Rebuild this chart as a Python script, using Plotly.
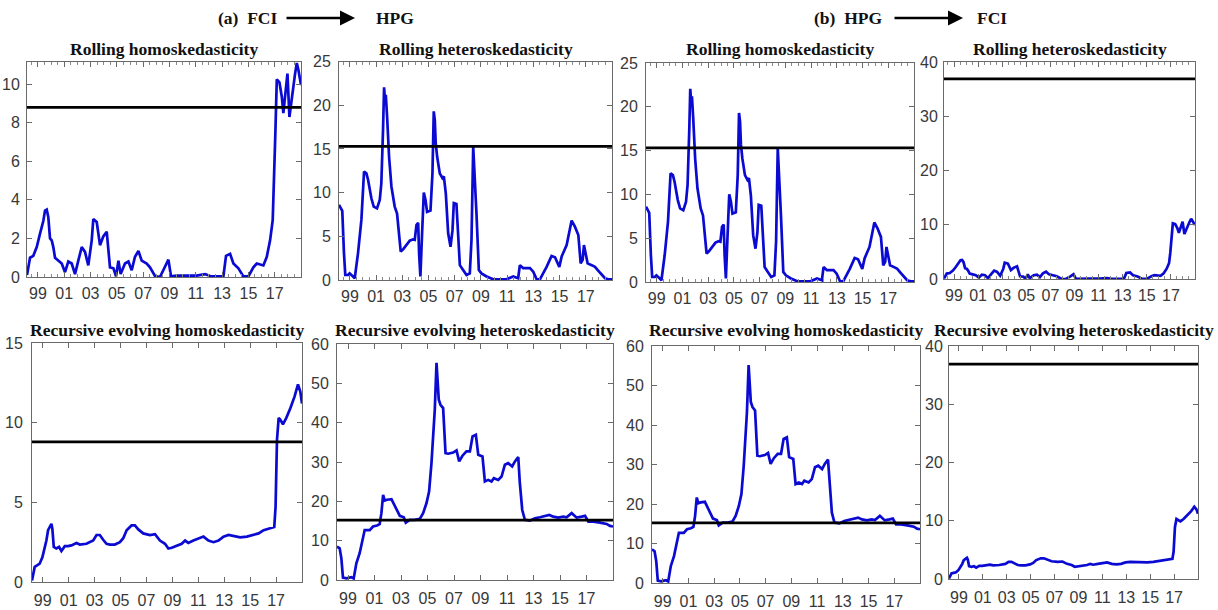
import plotly.graph_objects as go

W, H = 1218, 610

# ---- sample span (decimal years) and x tick labels ----
X_START, X_END = 1998.17, 2019.0
year_ticks = [1999, 2001, 2003, 2005, 2007, 2009, 2011, 2013, 2015, 2017]
year_labels = ["99", "01", "03", "05", "07", "09", "11", "13", "15", "17"]

# ---- test statistic sequences ----
roll_homo_t = [1998.17, 1998.40, 1998.65, 1998.91, 1999.16, 1999.41, 1999.54, 1999.67, 1999.79, 1999.92,
               2000.05, 2000.17, 2000.30, 2000.55, 2000.81, 2001.06, 2001.31, 2001.57, 2001.82, 2002.07,
               2002.33, 2002.58, 2002.83, 2003.09, 2003.21, 2003.47, 2003.72, 2003.97, 2004.23, 2004.48,
               2004.74, 2004.94, 2005.12, 2005.29, 2005.62, 2005.88, 2006.13, 2006.38, 2006.64, 2006.89,
               2007.27, 2007.52, 2007.90, 2008.28, 2008.66, 2008.92, 2009.12, 2009.55, 2010.31, 2011.07,
               2011.71, 2012.09, 2013.10, 2013.30, 2013.61, 2013.86, 2014.24, 2014.62, 2015.00, 2015.38,
               2015.64, 2016.14, 2016.40, 2016.65, 2016.85, 2016.95, 2017.05, 2017.16, 2017.36, 2017.54,
               2017.66, 2017.87, 2017.97, 2018.12, 2018.30, 2018.55, 2018.68, 2018.80, 2019.00]
roll_homo_v = [0.1, 1.0, 1.1, 1.55, 2.25, 2.9, 3.45, 3.5, 3.1, 2.0,
               1.9, 1.55, 1.0, 0.85, 0.7, 0.25, 0.8, 0.7, 0.15, 0.85,
               1.55, 1.3, 0.6, 1.9, 3.0, 2.85, 1.65, 2.1, 2.35, 0.5,
               0.45, 0.03, 0.85, 0.15, 0.7, 0.8, 0.35, 1.05, 1.35, 0.85,
               0.7, 0.5, 0.05, 0.0, 0.5, 0.9, 0.03, 0.07, 0.07, 0.07,
               0.15, 0.05, 0.03, 1.1, 1.2, 0.7, 0.45, 0.03, 0.03, 0.5,
               0.7, 0.6, 1.05, 1.9, 2.95, 4.85, 7.45, 10.25, 10.1, 9.35,
               8.5, 9.9, 10.55, 8.3, 9.35, 10.55, 11.1, 10.75, 9.95]

roll_het_t = [1998.17, 1998.35, 1998.42, 1998.55, 1998.65, 1998.86, 1998.98, 1999.24, 1999.37, 1999.62,
              1999.88, 2000.08, 2000.26, 2000.39, 2000.64, 2000.82, 2001.07, 2001.28, 2001.40, 2001.53,
              2001.61, 2001.68, 2001.74, 2001.84, 2001.99, 2002.17, 2002.42, 2002.60, 2002.75, 2002.88,
              2003.06, 2003.31, 2003.57, 2003.82, 2003.95, 2004.08, 2004.21, 2004.28, 2004.38, 2004.51,
              2004.64, 2004.77, 2004.89, 2005.15, 2005.30, 2005.40, 2005.48, 2005.55, 2005.66, 2005.86,
              2006.06, 2006.17, 2006.32, 2006.50, 2006.68, 2006.83, 2006.93, 2007.13, 2007.26, 2007.39,
              2007.64, 2007.90, 2008.15, 2008.28, 2008.41, 2008.53, 2008.66, 2008.84, 2009.04, 2009.43,
              2009.93, 2010.95, 2011.46, 2011.84, 2011.97, 2012.23, 2012.74, 2012.99, 2013.25, 2013.50,
              2014.01, 2014.39, 2014.65, 2014.98, 2015.16, 2015.54, 2015.74, 2015.92, 2016.17, 2016.43,
              2016.61, 2016.76, 2016.86, 2017.01, 2017.14, 2017.45, 2017.70, 2017.96, 2018.21, 2018.47,
              2018.72, 2019.00]
roll_het_v = [8.6, 8.2, 7.9, 3.05, 0.57, 0.57, 0.76, 0.4, 0.2, 3.05,
              6.9, 12.4, 12.2, 11.45, 9.35, 8.4, 8.2, 9.15, 11.05, 17.2,
              22.05, 20.6, 21.2, 18.7, 14.1, 10.7, 8.4, 7.6, 5.35, 3.25,
              3.5, 4.0, 4.5, 4.65, 4.6, 6.3, 6.55, 3.05, 0.4, 5.35,
              10.0, 9.15, 7.8, 7.95, 12.2, 19.3, 18.3, 15.65, 14.1, 12.2,
              11.65, 11.85, 9.9, 5.35, 3.8, 5.7, 8.8, 8.7, 5.35, 1.7,
              1.15, 0.57, 0.76, 4.6, 15.25, 11.85, 7.6, 1.15, 0.76, 0.4,
              0.08, 0.08, 0.4, 0.2, 1.7, 1.35, 1.35, 0.95, 0.08, 0.08,
              1.5, 2.75, 2.6, 1.5, 2.7, 4.0, 5.35, 6.8, 6.1, 5.15,
              1.9, 2.3, 4.0, 3.05, 1.9, 1.7, 1.5, 1.05, 0.57, 0.2,
              0.08, 0.08]

rec_homo_t = [1998.17, 1998.25, 1998.38, 1998.56, 1998.76, 1998.97, 1999.15, 1999.28, 1999.41, 1999.54,
              1999.67, 1999.74, 1999.85, 2000.05, 2000.26, 2000.44, 2000.70, 2000.95, 2001.21, 2001.60,
              2001.86, 2002.37, 2002.89, 2003.15, 2003.40, 2003.66, 2003.92, 2004.18, 2004.56, 2004.95,
              2005.21, 2005.47, 2005.85, 2006.11, 2006.37, 2006.75, 2007.27, 2007.66, 2008.04, 2008.43,
              2008.69, 2008.95, 2009.33, 2009.72, 2009.98, 2010.23, 2010.62, 2011.01, 2011.40, 2011.78,
              2012.17, 2012.56, 2012.94, 2013.33, 2013.72, 2014.23, 2014.75, 2015.26, 2015.65, 2016.04,
              2016.42, 2016.86, 2016.96, 2017.07, 2017.20, 2017.32, 2017.53, 2017.79, 2018.10, 2018.43,
              2018.69, 2018.87, 2019.00]
rec_homo_v = [0.1, 0.5, 0.95, 1.05, 1.15, 1.55, 2.1, 2.6, 3.25, 3.5,
              3.65, 3.35, 2.2, 2.1, 2.2, 1.95, 2.25, 2.25, 2.3, 2.45,
              2.35, 2.4, 2.6, 2.95, 2.95, 2.65, 2.4, 2.35, 2.35, 2.5,
              2.75, 3.25, 3.55, 3.55, 3.3, 3.05, 2.95, 3.0, 2.6, 2.4,
              2.1, 2.15, 2.25, 2.4, 2.6, 2.45, 2.6, 2.75, 2.85, 2.6,
              2.5, 2.6, 2.85, 2.95, 2.9, 2.8, 2.85, 2.95, 3.05, 3.25,
              3.35, 3.45, 4.7, 8.9, 10.3, 10.2, 9.9, 10.3, 10.9, 11.65,
              12.4, 11.95, 11.2]

rec_het_t = [1998.17, 1998.37, 1998.50, 1998.62, 1998.88, 1999.25, 1999.43, 1999.63, 1999.88, 2000.13,
             2000.26, 2000.64, 2000.89, 2001.19, 2001.39, 2001.52, 2001.65, 2001.77, 2001.95, 2002.28,
             2002.65, 2002.91, 2003.21, 2003.36, 2003.66, 2004.04, 2004.42, 2004.67, 2004.92, 2005.12,
             2005.30, 2005.42, 2005.55, 2005.68, 2005.75, 2005.85, 2005.98, 2006.18, 2006.36, 2006.56,
             2006.94, 2007.19, 2007.39, 2007.64, 2007.94, 2008.20, 2008.40, 2008.65, 2008.83, 2009.15,
             2009.33, 2009.58, 2009.83, 2010.01, 2010.34, 2010.59, 2010.84, 2011.09, 2011.39, 2011.60,
             2011.85, 2011.97, 2012.15, 2012.35, 2012.73, 2013.11, 2013.49, 2013.99, 2014.19, 2014.49,
             2014.87, 2015.25, 2015.50, 2015.88, 2016.26, 2016.63, 2016.89, 2017.14, 2017.52, 2018.02,
             2018.52, 2018.77, 2019.00]
rec_het_v = [8.5, 8.05, 5.5, 0.6, 0.4, 0.7, 0.4, 4.25, 6.8, 10.2,
             12.7, 12.7, 13.6, 13.85, 14.2, 17.0, 21.65, 20.2, 20.4, 20.55,
             18.25, 16.3, 15.95, 14.6, 15.3, 15.3, 15.55, 17.0, 19.5, 22.5,
             29.7, 35.65, 43.3, 55.2, 50.9, 45.85, 44.55, 43.7, 32.25, 32.1,
             32.4, 32.95, 30.15, 31.6, 32.7, 32.7, 36.5, 36.9, 31.85, 31.4,
             25.05, 25.45, 25.05, 25.9, 25.45, 26.3, 29.3, 29.7, 28.85, 30.15,
             31.25, 24.6, 17.8, 15.3, 15.1, 15.7, 15.95, 16.3, 16.55, 16.1,
             15.85, 16.1, 15.95, 17.0, 15.85, 16.1, 16.3, 14.85, 14.85, 14.6,
             14.25, 13.75, 13.6]

# critical values (horizontal reference lines)
crit_values = [8.8, 15.3, 15.3, 36.9, 8.8, 15.2, 15.2, 36.9]

titles = ["Rolling homoskedasticity", "Rolling heteroskedasticity",
          "Rolling homoskedasticity", "Rolling heteroskedasticity",
          "Recursive evolving homoskedasticity", "Recursive evolving heteroskedasticity",
          "Recursive evolving homoskedasticity", "Recursive evolving heteroskedasticity"]
series = [(roll_homo_t, roll_homo_v), (roll_het_t, roll_het_v),
          (roll_het_t, roll_het_v), (roll_homo_t, roll_homo_v),
          (rec_homo_t, rec_homo_v), (rec_het_t, rec_het_v),
          (rec_het_t, rec_het_v), (rec_homo_t, rec_homo_v)]
y_max = [11.15, 25, 25, 40, 15, 60, 60, 40]
y_step = [2, 5, 5, 10, 5, 10, 10, 10]

# plot-area boxes in pixels: left, right, top, bottom
boxes = [(27, 301, 62, 277), (339, 612, 61.5, 280), (646, 914, 63, 282), (944, 1195, 62, 279),
         (32, 302, 343, 582), (337, 613, 344, 580), (652, 920, 346, 583), (949, 1198, 346, 579)]
# gap between y tick labels and the axis line
y_label_gap = [3, 4, 4, 2, 5, 4, 4, 2]

BLUE = "#0a0ad2"
TICK_FONT = dict(family="Liberation Sans, Arial, sans-serif", size=16, color="#383838")
TITLE_FONT = dict(family="Liberation Serif, Times New Roman, serif", size=17.5, color="#111111")
AX_COLOR = "#6a6a6a"

fig = go.Figure()
layout = dict(width=W, height=H, margin=dict(l=0, r=0, t=0, b=0, pad=0, autoexpand=False),
              autosize=False, paper_bgcolor="white", plot_bgcolor="white", showlegend=False)
annotations = []

for i in range(8):
    n = "" if i == 0 else str(i + 1)
    x0, x1, y0, y1 = boxes[i]
    t, v = series[i]
    fig.add_trace(go.Scatter(x=t, y=v, mode="lines", line=dict(color=BLUE, width=2.7),
                             xaxis="x" + n, yaxis="y" + n, hoverinfo="skip"))
    fig.add_trace(go.Scatter(x=[X_START, X_END], y=[crit_values[i], crit_values[i]], mode="lines",
                             line=dict(color="black", width=2.8),
                             xaxis="x" + n, yaxis="y" + n, hoverinfo="skip"))
    xa = dict(domain=[x0 / W, x1 / W], range=[X_START, X_END], anchor="y" + n, automargin=False,
              tickmode="array", tickvals=year_ticks, ticktext=year_labels,
              ticks="inside", ticklen=5, tickcolor=AX_COLOR, tickwidth=1,
              showline=True, linecolor=AX_COLOR, linewidth=1, mirror="ticks",
              showgrid=False, zeroline=False, tickfont=TICK_FONT,
              ticklabelstandoff=2 if i < 4 else 4)
    if i < 4:
        xa["minor"] = dict(tick0=1999, dtick=0.5, ticks="inside", ticklen=3, tickcolor="#8a8a8a")
    ya = dict(domain=[1 - y1 / H, 1 - y0 / H], range=[0, y_max[i]], anchor="x" + n, automargin=False,
              tickmode="linear", tick0=0, dtick=y_step[i],
              ticks="inside", ticklen=5, tickcolor=AX_COLOR, tickwidth=1,
              showline=True, linecolor=AX_COLOR, linewidth=1, mirror="ticks",
              showgrid=False, zeroline=False, tickfont=TICK_FONT, ticklabelstandoff=y_label_gap[i])
    layout["xaxis" + n] = xa
    layout["yaxis" + n] = ya
    title_y = 49 if i < 4 else 330
    annotations.append(dict(text="<b>%s</b>" % titles[i], x=(x0 + x1) / 2 / W, y=1 - title_y / H,
                            xref="paper", yref="paper", xanchor="center", yanchor="middle",
                            showarrow=False, font=TITLE_FONT))

# direction headers
HEAD_Y = 1 - 18 / H
for left_txt, right_txt, lx, ax0, ax1, rx in [("(a)  FCI", "HPG", 279, 285, 355, 374),
                                             ("(b)  HPG", "FCI", 884, 893, 963, 975)]:
    annotations.append(dict(text="<b>%s</b>" % left_txt, x=lx / W, y=HEAD_Y, xref="paper", yref="paper",
                            xanchor="right", yanchor="middle", showarrow=False, font=TITLE_FONT))
    annotations.append(dict(text="<b>%s</b>" % right_txt, x=rx / W, y=HEAD_Y, xref="paper", yref="paper",
                            xanchor="left", yanchor="middle", showarrow=False, font=TITLE_FONT))
    annotations.append(dict(text="", x=ax1 / W, y=HEAD_Y, ax=-(ax1 - ax0), ay=0,
                            xref="paper", yref="paper", axref="pixel", ayref="pixel",
                            showarrow=True, arrowhead=2, arrowsize=1.2, arrowwidth=2.5,
                            arrowcolor="black", standoff=0, startstandoff=0))

layout["annotations"] = annotations
fig.update_layout(**layout)
fig.write_html("out.html")
